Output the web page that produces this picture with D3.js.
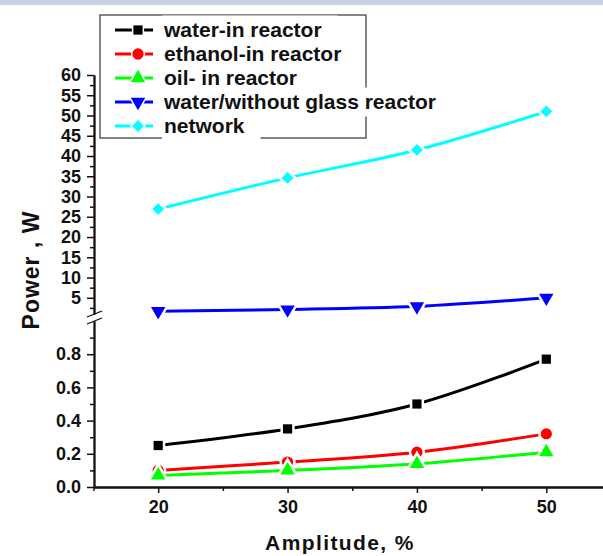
<!DOCTYPE html>
<html>
<head>
<meta charset="utf-8">
<script src="https://cdn.jsdelivr.net/npm/d3@7"></script>
<style>
  body { margin: 0; background: white; }
  svg { display: block; font-family: "Liberation Sans", Arial, sans-serif; }
</style>
</head>
<body>
<div id="container"></div>
<script>
// data
let amplitude = [20, 30, 40, 50];
let waterIn = [0.25, 0.35, 0.50, 0.77];
let ethanolIn = [0.10, 0.15, 0.21, 0.32];
let oilIn = [0.07, 0.10, 0.14, 0.21];
let waterNoGlass = [1.7, 2.1, 2.9, 5.0];
let network = [26.9, 34.6, 41.5, 51.0];

let seriesNames = ["water-in reactor", "ethanol-in reactor", "oil- in reactor", "water/without glass reactor", "network"];
let upperTicks = [5, 10, 15, 20, 25, 30, 35, 40, 45, 50, 55, 60];
let lowerTicks = [0, 0.2, 0.4, 0.6, 0.8];
let xTicks = [20, 30, 40, 50];

let black = "#000000";
let red = "#ff0000";
let green = "#00ff00";
let blue = "#0000ff";
let cyan = "#00ffff";

let W = 603, H = 556;

let viz = d3.select("#container")
  .append("svg")
    .attr("width", W)
    .attr("height", H)
    .style("background-color", "white");

// thin band at the top of the screenshot
viz.append("rect")
  .attr("x", 0).attr("y", 0)
  .attr("width", W).attr("height", 5)
  .attr("fill", "#c9d1e2");

let x = d3.scaleLinear().domain([15, 55]).range([93.5, 611]);
let yUp = d3.scaleLinear().domain([1, 60]).range([314, 75]);
let yLow = d3.scaleLinear().domain([0, 1]).range([487, 321]);

function styleAxis(g) {
  g.selectAll("path.domain").attr("stroke", "#111").attr("stroke-width", 1.8);
  g.selectAll(".tick line").attr("stroke", "#111").attr("stroke-width", 1.5);
  g.selectAll(".tick text")
    .attr("font-size", 18)
    .attr("font-weight", "bold")
    .attr("fill", "#111")
    .attr("font-family", "'Liberation Sans', Arial, sans-serif");
}

// upper y axis
viz.append("g")
  .attr("transform", "translate(94,0)")
  .call(d3.axisLeft(yUp).tickValues([2.5, 7.5, 12.5, 17.5, 22.5, 27.5, 32.5, 37.5, 42.5, 47.5, 52.5, 57.5])
    .tickSize(4).tickFormat("").tickSizeOuter(0))
  .call(styleAxis);
viz.append("g")
  .attr("transform", "translate(94,0)")
  .call(d3.axisLeft(yUp).tickValues(upperTicks).tickSize(7).tickPadding(6).tickSizeOuter(0))
  .call(styleAxis);

// lower y axis
viz.append("g")
  .attr("transform", "translate(94,0)")
  .call(d3.axisLeft(yLow).tickValues([0.1, 0.3, 0.5, 0.7, 0.9])
    .tickSize(4).tickFormat("").tickSizeOuter(0))
  .call(styleAxis);
viz.append("g")
  .attr("transform", "translate(94,0)")
  .call(d3.axisLeft(yLow).tickValues(lowerTicks).tickSize(7).tickPadding(6)
    .tickFormat(d3.format(".1f")).tickSizeOuter(0))
  .call(styleAxis);

// break marks
[314, 321].forEach(function (yy) {
  viz.append("line")
    .attr("x1", 87).attr("y1", yy + 3)
    .attr("x2", 102).attr("y2", yy - 3)
    .attr("stroke", "#111").attr("stroke-width", 1.3);
});

// x axis
viz.append("g")
  .attr("transform", "translate(0,487)")
  .call(d3.axisBottom(x).tickValues([15, 25, 35, 45, 55]).tickSize(4).tickFormat("").tickSizeOuter(0))
  .call(styleAxis);
viz.append("g")
  .attr("transform", "translate(0,487)")
  .call(d3.axisBottom(x).tickValues(xTicks).tickSize(6).tickPadding(7).tickSizeOuter(0))
  .call(styleAxis);

// axis titles
viz.append("text")
  .text("Amplitude, %")
  .attr("x", 340)
  .attr("y", 550)
  .attr("text-anchor", "middle")
  .attr("font-size", 21)
  .attr("font-weight", "bold")
  .attr("letter-spacing", 1.4)
  .attr("fill", "#111");

viz.append("text")
  .text("Power , W")
  .attr("transform", "translate(39,270) rotate(-90)")
  .attr("text-anchor", "middle")
  .attr("font-size", 23)
  .attr("font-weight", "bold")
  .attr("letter-spacing", 1)
  .attr("fill", "#111");

// series
let series = [
  { name: seriesNames[0], values: waterIn, y: yLow, color: black, shape: d3.symbolSquare, size: 85, rot: 0 },
  { name: seriesNames[1], values: ethanolIn, y: yLow, color: red, shape: d3.symbolCircle, size: 100, rot: 0 },
  { name: seriesNames[2], values: oilIn, y: yLow, color: green, shape: d3.symbolTriangle, size: 90, rot: 0 },
  { name: seriesNames[3], values: waterNoGlass, y: yUp, color: blue, shape: d3.symbolTriangle, size: 90, rot: 180 },
  { name: seriesNames[4], values: network, y: yUp, color: cyan, shape: d3.symbolSquare, size: 70, rot: 45 }
];

series.forEach(function (s) {
  let pts = amplitude.map(function (a, i) { return [a, s.values[i]]; });
  let line = d3.line()
    .x(function (d) { return x(d[0]); })
    .y(function (d) { return s.y(d[1]); })
    .curve(d3.curveCatmullRom);
  viz.append("path")
    .attr("d", line(pts))
    .attr("fill", "none")
    .attr("stroke", s.color)
    .attr("stroke-width", 3);
});

series.forEach(function (s) {
  let sym = d3.symbol().type(s.shape).size(s.size);
  amplitude.forEach(function (a, i) {
    viz.append("path")
      .attr("d", sym())
      .attr("transform", "translate(" + x(a) + "," + s.y(s.values[i]) + ") rotate(" + s.rot + ")")
      .attr("fill", s.color)
      .attr("stroke", "white")
      .attr("stroke-width", 5)
      .attr("paint-order", "stroke");
  });
});

// legend
let legend = viz.append("g");
legend.append("rect")
  .attr("x", 100).attr("y", 15)
  .attr("width", 266).attr("height", 123)
  .attr("fill", "white")
  .attr("stroke", "#444")
  .attr("stroke-width", 1.3);

let rowY = [30, 54, 78, 102, 126];
series.forEach(function (s, i) {
  let yy = rowY[i];
  let bg = legend.append("rect").attr("fill", "white");
  let t = legend.append("text")
    .text(s.name)
    .attr("x", 164)
    .attr("y", yy + 7)
    .attr("font-size", 21)
    .attr("font-weight", "bold")
    .attr("fill", "#111");
  let w = t.node().getComputedTextLength();
  bg.attr("x", 162).attr("y", yy - 14.5).attr("width", w + 18).attr("height", 29);
  legend.append("line")
    .attr("x1", 115).attr("x2", 153)
    .attr("y1", yy).attr("y2", yy)
    .attr("stroke", s.color).attr("stroke-width", 3);
  legend.append("path")
    .attr("d", d3.symbol().type(s.shape).size(s.size)())
    .attr("transform", "translate(138," + yy + ") rotate(" + s.rot + ")")
    .attr("fill", s.color)
    .attr("stroke", "white")
    .attr("stroke-width", 3)
    .attr("paint-order", "stroke");
});
</script>
</body>
</html>
